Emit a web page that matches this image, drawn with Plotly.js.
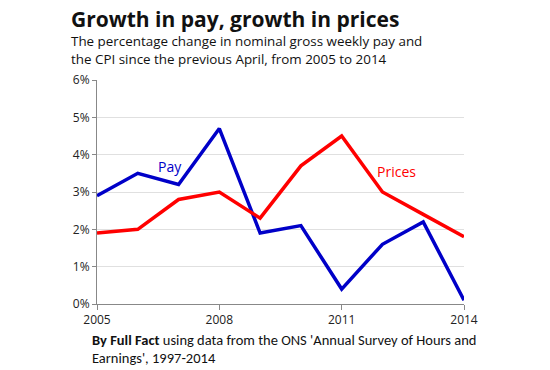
<!DOCTYPE html>
<html>
<head>
<meta charset="utf-8">
<script src="https://cdn.plot.ly/plotly-3.0.1.min.js"></script>
<style>html,body{margin:0;padding:0;background:#fff;}#chart{width:550px;height:370px;}</style>
</head>
<body>
<div id="chart"></div>
<script>
var years = [2005, 2006, 2007, 2008, 2009, 2010, 2011, 2012, 2013, 2014];
var pay = [2.9, 3.5, 3.2, 4.7, 1.9, 2.1, 0.4, 1.6, 2.2, 0.1];
var prices = [1.9, 2.0, 2.8, 3.0, 2.3, 3.7, 4.5, 3.0, 2.4, 1.8];
var xTicks = [2005, 2008, 2011, 2014];
var yTicks = [0, 1, 2, 3, 4, 5, 6];
var yTickLabels = ['0%', '1%', '2%', '3%', '4%', '5%', '6%'];

var traces = [
  {x: years, y: pay, type: 'scatter', mode: 'lines', name: 'Pay',
   line: {color: '#0000c8', width: 3.5}},
  {x: years, y: prices, type: 'scatter', mode: 'lines', name: 'Prices',
   line: {color: '#ff0000', width: 3.5}}
];

var footFont = 'Carlito, "Liberation Sans", sans-serif';

var layout = {
  width: 550, height: 370,
  margin: {l: 97, r: 86, t: 80, b: 66},
  paper_bgcolor: '#ffffff', plot_bgcolor: '#ffffff',
  showlegend: false,
  font: {family: '"Open Sans", sans-serif', color: '#222', size: 12},
  xaxis: {
    range: [2005, 2014], tickvals: xTicks, ticktext: xTicks.map(String),
    showgrid: false, zeroline: false, showline: true, linecolor: '#888', linewidth: 1,
    ticks: 'outside', ticklen: 5, tickcolor: '#888',
    tickfont: {size: 12, color: '#222'}
  },
  yaxis: {
    range: [0, 6], tickvals: yTicks, ticktext: yTickLabels,
    showgrid: true, gridcolor: '#e0e0e0', gridwidth: 1,
    zeroline: false, showline: true, linecolor: '#888', linewidth: 1,
    ticks: 'outside', ticklen: 4, tickcolor: '#888',
    tickfont: {size: 12, color: '#222'}
  },
  annotations: [
    {x: 2006.8, y: 3.67, xref: 'x', yref: 'y', text: 'Pay', showarrow: false,
     font: {size: 14, color: '#0000c8'}},
    {x: 2012.35, y: 3.55, xref: 'x', yref: 'y', text: 'Prices', showarrow: false,
     font: {size: 14, color: '#ff0000'}},
    {x: 69, y: 35, text: '<b>Growth in pay, growth in prices</b>',
     showarrow: false, xanchor: 'left', yanchor: 'bottom', font: {size: 21, color: '#111'}},
    {x: 69, y: 52, text: 'The percentage change in nominal gross weekly pay and', showarrow: false,
     xanchor: 'left', yanchor: 'bottom', font: {size: 13.4, color: '#111'}},
    {x: 69, y: 70, text: 'the CPI since the previous April, from 2005 to 2014', showarrow: false,
     xanchor: 'left', yanchor: 'bottom', font: {size: 13.4, color: '#111'}},
    {x: 90, y: 351, text: '<b>By Full Fact</b> using data from the ONS \'Annual Survey of Hours and', showarrow: false,
     xanchor: 'left', yanchor: 'bottom', font: {family: footFont, size: 14.5, color: '#111'}},
    {x: 90, y: 369, text: 'Earnings\', 1997-2014', showarrow: false,
     xanchor: 'left', yanchor: 'bottom', font: {family: footFont, size: 14.5, color: '#111'}}
  ]
};

// convert pixel-positioned annotations to paper coordinates
var pw = 550 - layout.margin.l - layout.margin.r;
var ph = 370 - layout.margin.t - layout.margin.b;
layout.annotations.forEach(function(a, i) {
  if (i >= 2) {
    a.xref = 'paper'; a.yref = 'paper';
    var px = a.x, py = a.y;
    a.x = (px - layout.margin.l) / pw;
    a.y = (370 - layout.margin.b - py) / ph;
  }
});

Plotly.newPlot('chart', traces, layout, {displayModeBar: false, staticPlot: true});
</script>
</body>
</html>
